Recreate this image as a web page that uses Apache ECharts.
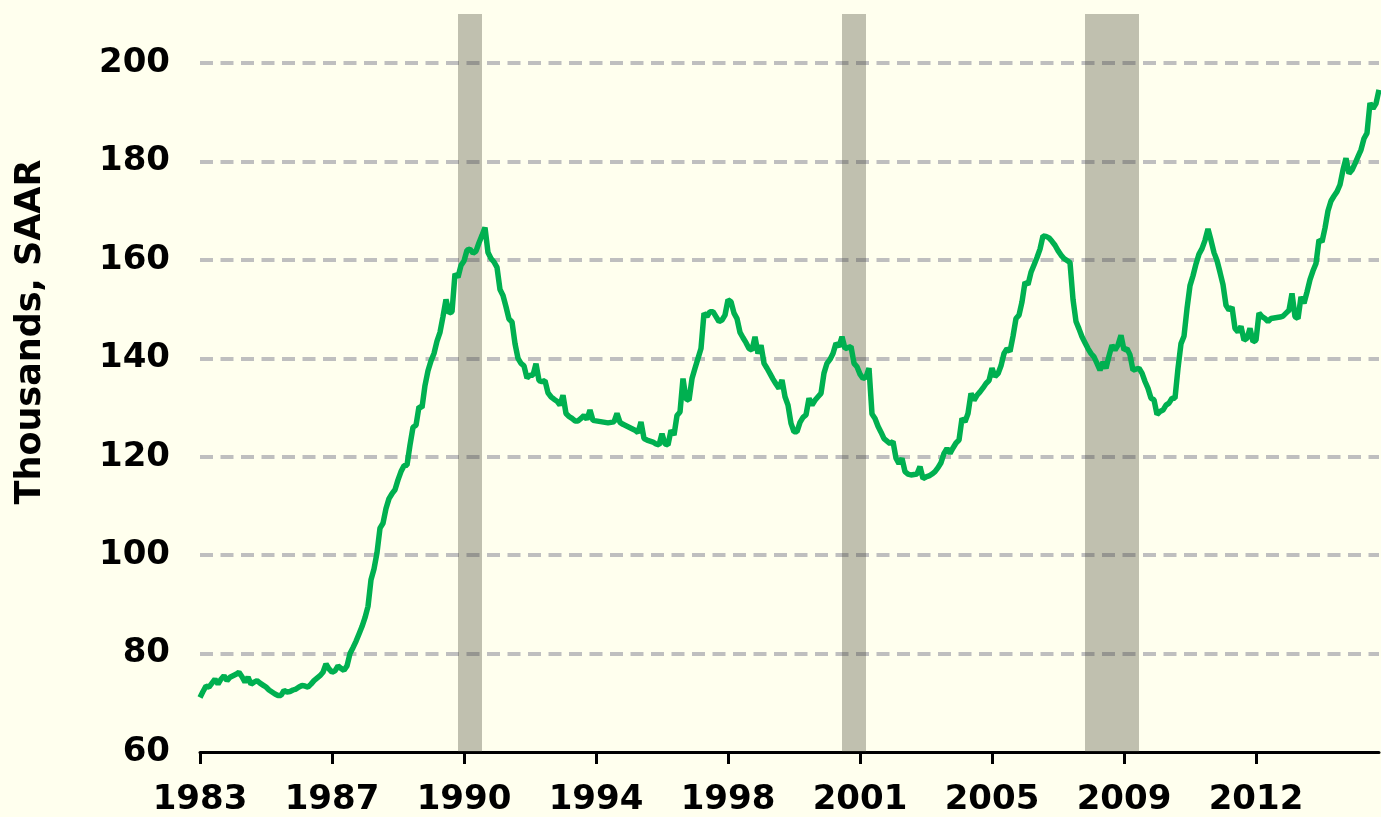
<!DOCTYPE html>
<html>
<head>
<meta charset="utf-8">
<script src="https://cdn.jsdelivr.net/npm/echarts@6/dist/echarts.min.js"></script>
<style>
  html, body { margin: 0; padding: 0; background: #FFFFEE; }
  #main { width: 1381px; height: 817px; }
</style>
</head>
<body>
<div id="main"></div>
<script>
// monthly, May 1983 .. Feb 2016
var startYear = 1983, startMonth = 5;
var values = [
  71.1, 72.3, 73.4, 73.2, 74.0, 74.8, 73.8, 74.8, 75.5, 74.5,
  75.2, 75.5, 75.8, 76.2, 75.3, 74.2, 75.2, 73.8, 74.2, 74.5,
  74.0, 73.6, 73.2, 72.6, 72.2, 71.8, 71.5, 71.5, 72.5, 72.2,
  72.3, 72.6, 72.8, 73.2, 73.5, 73.4, 73.2, 73.8, 74.5, 75.0,
  75.5, 76.2, 77.9, 76.9, 76.2, 76.5, 77.5, 77.0, 76.6, 77.5,
  80.0, 81.2, 82.5, 84.0, 85.5, 87.3, 89.6, 95.0, 97.2, 100.5,
  105.5, 106.5, 109.5, 111.5, 112.5, 113.3, 115.3, 117.0, 118.2, 118.3,
  122.4, 126.0, 126.4, 130.2, 130.0, 134.5, 137.5, 139.5, 141.0, 143.5,
  145.3, 148.5, 152.0, 149.2, 149.5, 157.2, 156.5, 158.9, 159.8, 162.0,
  162.2, 161.4, 161.8, 163.5, 165.0, 166.6, 161.5, 160.3, 159.6, 158.5,
  154.0, 152.8, 150.5, 148.0, 147.4, 143.0, 140.0, 139.0, 138.5, 136.0,
  136.6, 136.6, 138.9, 135.5, 135.3, 135.5, 133.0, 132.2, 131.7, 131.3,
  130.5, 132.5, 128.8, 128.2, 127.8, 127.3, 127.3, 127.8, 128.4, 127.6,
  129.5, 127.4, 127.3, 127.2, 127.1, 127.0, 126.9, 127.0, 127.1, 128.8,
  127.0, 126.6, 126.3, 126.0, 125.7, 125.4, 124.9, 127.1, 123.7, 123.4,
  123.2, 123.0, 122.6, 122.4, 124.7, 122.6, 122.4, 125.4, 124.4, 128.4,
  129.1, 135.9, 131.8, 131.5, 135.9, 138.0, 140.0, 142.0, 149.2, 148.5,
  149.5, 149.5, 148.5, 147.5, 147.8, 148.8, 151.9, 151.5, 149.2, 148.1,
  145.3, 144.2, 143.2, 142.0, 141.7, 144.4, 141.0, 142.7, 139.0, 138.0,
  136.9, 135.8, 134.8, 133.9, 135.6, 132.2, 130.5, 126.8, 125.1, 125.1,
  127.0, 128.0, 128.5, 131.9, 130.5, 131.5, 132.2, 132.9, 137.0, 139.0,
  139.8, 141.0, 143.1, 142.4, 144.4, 142.0, 142.2, 142.4, 139.0, 138.3,
  136.8, 135.9, 136.2, 138.0, 128.7, 127.8, 126.2, 125.0, 123.7, 123.2,
  122.7, 123.1, 119.7, 118.6, 119.7, 117.0, 116.5, 116.3, 116.4, 116.5,
  118.0, 115.6, 115.9, 116.1, 116.5, 117.0, 117.8, 118.8, 120.7, 121.7,
  120.7, 121.8, 122.8, 123.4, 127.8, 127.1, 128.8, 132.9, 131.5, 132.5,
  133.2, 134.0, 134.9, 135.5, 138.0, 136.3, 136.9, 138.5, 141.0, 142.0,
  141.4, 144.5, 148.1, 148.8, 151.5, 155.5, 155.0, 157.5, 159.0, 160.5,
  162.2, 164.9, 164.8, 164.5, 163.8, 163.0, 161.9, 161.0, 160.3, 159.9,
  159.5, 152.0, 147.5, 146.0, 144.4, 143.2, 142.0, 141.0, 140.3, 139.0,
  137.6, 139.3, 138.0, 140.5, 142.7, 141.7, 142.7, 144.7, 141.7, 142.0,
  140.7, 137.6, 137.8, 138.0, 137.0, 135.3, 133.9, 131.9, 131.6, 128.6,
  129.2, 129.5, 130.5, 130.9, 131.9, 131.9, 138.0, 143.0, 144.5, 150.1,
  154.8, 156.8, 159.2, 161.2, 162.3, 164.0, 166.3, 164.0, 161.5, 159.9,
  157.5, 155.0, 150.8, 149.8, 150.4, 146.1, 145.4, 146.5, 143.7, 144.1,
  146.1, 143.4, 143.7, 149.2, 148.5, 148.1, 147.5, 148.1, 148.2, 148.3,
  148.4, 148.6, 149.2, 149.8, 153.2, 148.5, 148.1, 152.5, 151.2, 153.5,
  156.0, 157.8, 159.3, 164.1, 163.7, 166.5, 170.0, 172.0, 173.0, 173.9,
  175.3, 178.3, 180.7, 177.6, 178.3, 179.6, 181.0, 182.4, 184.7, 185.8,
  191.9, 190.8, 191.8, 194.6
];
var recessions = [
  ['1990-07', '1991-03'],
  ['2001-03', '2001-11'],
  ['2007-12', '2009-06']
];
var yTicks = { min: 60, max: 210, step: 20 };

var months = [];
for (var k = 0; k < values.length; k++) {
  var m = startMonth - 1 + k;
  var yy = startYear + Math.floor(m / 12);
  var mm = (m % 12) + 1;
  months.push(yy + '-' + (mm < 10 ? '0' + mm : mm));
}

var font = 'DejaVu Sans';
var chart = echarts.init(document.getElementById('main'));
chart.setOption({
  backgroundColor: '#FFFFEE',
  animation: false,
  grid: { left: 200, right: 2, top: 14, bottom: 64, containLabel: false },
  xAxis: {
    type: 'category',
    data: months,
    boundaryGap: false,
    axisLine: { lineStyle: { color: '#000', width: 3 } },
    axisTick: { interval: 43, length: 12, lineStyle: { color: '#000', width: 3 } },
    axisLabel: {
      interval: 43,
      margin: 31,
      color: '#000',
      fontFamily: font,
      fontWeight: 'bold',
      fontSize: 34,
      formatter: function (v) { return v.slice(0, 4); }
    },
    splitLine: { show: false }
  },
  yAxis: {
    type: 'value',
    min: yTicks.min,
    max: yTicks.max,
    interval: yTicks.step,
    name: 'Thousands, SAAR',
    nameLocation: 'middle',
    nameRotate: 90,
    nameGap: 152,
    nameTextStyle: {
      color: '#000', fontFamily: font, fontWeight: 'bold', fontSize: 35,
      padding: [0, 0, 0, 102]
    },
    axisLine: { show: false },
    axisTick: { show: false },
    axisLabel: {
      margin: 30,
      color: '#000',
      fontFamily: font,
      fontWeight: 'bold',
      fontSize: 34,
      showMaxLabel: false,
      formatter: function (v) { return v > 200 ? '' : v; }
    },
    splitLine: {
      showMinLine: false,
      showMaxLine: false,
      lineStyle: { color: '#BFBFBF', width: 4, type: [13, 7.5] }
    }
  },
  series: [{
    type: 'line',
    data: values,
    showSymbol: false,
    lineStyle: { color: '#00B050', width: 5.5 },
    itemStyle: { color: '#00B050' },
    markArea: {
      silent: true,
      itemStyle: { color: 'rgba(64,64,50,0.33)' },
      data: recessions.map(function (r) { return [{ xAxis: r[0] }, { xAxis: r[1] }]; })
    }
  }]
});
</script>
</body>
</html>
